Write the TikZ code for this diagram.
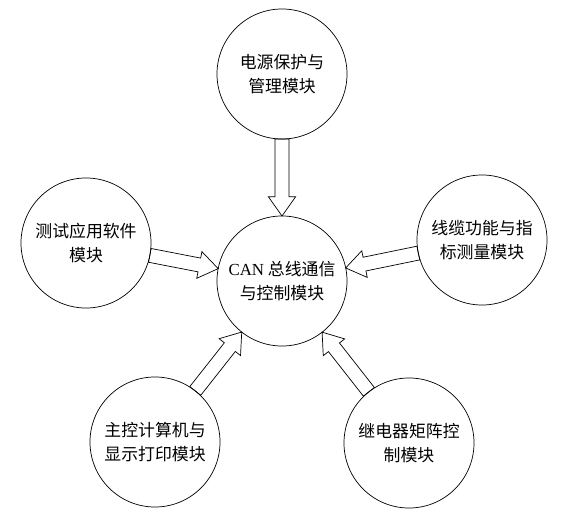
\documentclass[tikz,border=0pt]{standalone}
\usepackage{fontspec}
\setmainfont{Liberation Serif}
\newfontfamily\cjk{Noto Sans CJK SC}
\usetikzlibrary{calc}

\begin{document}
\begin{tikzpicture}[x=0.025cm,y=-0.025cm,
  modul/.style={circle,draw,line width=0.5pt,minimum size=3.25cm,inner sep=0pt,
    align=center,font=\cjk\fontsize{12}{17}\selectfont},
  hohlpfeil/.style={draw,line width=0.5pt,line join=miter}]
\newcommand{\Radx}{1.625cm}
\newcommand{\ShaftW}{0.175cm}
\newcommand{\HeadW}{0.34cm}
\newcommand{\HeadL}{0.48cm}
\useasboundingbox (0,0) rectangle (571,531);
        \node[modul] (can) at (282,281) {\textrm{CAN} 总线通信\\与控制模块};
        \node[modul] (power) at (282,74) {电源保护与\\管理模块};
        \node[modul] (software) at (86,243) {测试应用软件\\模块};
        \node[modul] (cable) at (482,240) {线缆功能与指\\标测量模块};
        \node[modul] (host) at (155,442) {主控计算机与\\显示打印模块};
        \node[modul] (relay) at (409,443) {继电器矩阵控\\制模块};
        \foreach \src in {power,software,cable,host,relay} {
                \coordinate (s) at ($(\src)!\Radx!(can)$);
                \coordinate (t) at ($(can)!\Radx!(\src)$);
                \coordinate (hb) at ($(t)!\HeadL!(s)$);
                \draw[hohlpfeil] ($(s)!\ShaftW!90:(t)$) -- ($(hb)!\ShaftW!90:(t)$)
                        -- ($(hb)!\HeadW!90:(t)$) -- (t) -- ($(hb)!\HeadW!-90:(t)$)
                        -- ($(hb)!\ShaftW!-90:(t)$) -- ($(s)!\ShaftW!-90:(t)$) -- cycle;
		}
\end{tikzpicture}
\end{document}
